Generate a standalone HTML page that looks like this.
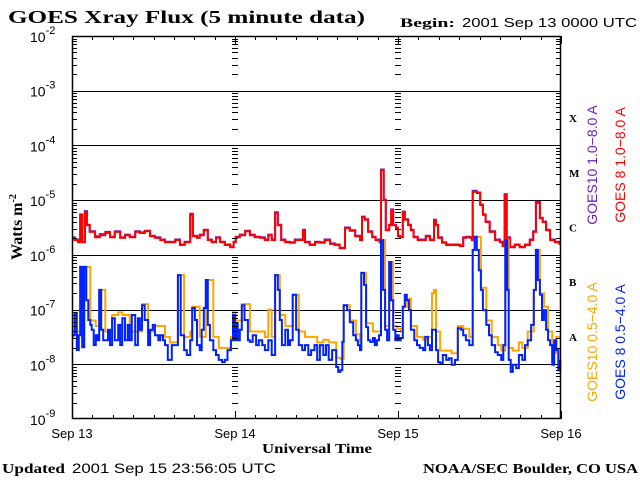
<!DOCTYPE html>
<html><head><meta charset="utf-8"><style>
html,body{margin:0;padding:0;background:#fff}
svg{display:block}
.serif{font-family:"Liberation Serif",serif;font-weight:bold}
.sans{font-family:"Liberation Sans",sans-serif}
</style></head><body>
<svg id="chart" width="640" height="480" viewBox="0 0 640 480">
<rect x="0" y="0" width="640" height="480" fill="#fff"/>
<text class="serif" x="8" y="23" font-size="18" textLength="357" lengthAdjust="spacingAndGlyphs">GOES Xray Flux (5 minute data)</text>
<text class="serif" x="400" y="27" font-size="13" textLength="55" lengthAdjust="spacingAndGlyphs">Begin:</text>
<text class="sans" x="462" y="27" font-size="13" textLength="175" lengthAdjust="spacingAndGlyphs">2001 Sep 13 0000 UTC</text>
<g id="grid"></g>
<g id="series"></g>
<g id="axes"></g>
<text class="serif" transform="translate(22,227) rotate(-90)" text-anchor="middle" font-size="16">Watts m<tspan dy="-6" font-size="10">-2</tspan></text>
<text class="serif" x="262" y="453" font-size="14" textLength="110" lengthAdjust="spacingAndGlyphs">Universal Time</text>
<text class="serif" x="2" y="473" font-size="14" textLength="63" lengthAdjust="spacingAndGlyphs">Updated</text>
<text class="sans" x="72" y="473" font-size="14" textLength="204" lengthAdjust="spacingAndGlyphs">2001 Sep 15 23:56:05 UTC</text>
<text class="serif" x="423" y="473" font-size="14" textLength="215" lengthAdjust="spacingAndGlyphs">NOAA/SEC Boulder, CO USA</text>
<g class="sans" font-size="14">
<text transform="translate(597,165) rotate(-90)" text-anchor="middle" fill="#6a1fc0">GOES10 1.0−8.0 A</text>
<text transform="translate(625,165) rotate(-90)" text-anchor="middle" fill="#ff0000">GOES 8 1.0−8.0 A</text>
<text transform="translate(597,342) rotate(-90)" text-anchor="middle" fill="#ffa500">GOES10 0.5−4.0 A</text>
<text transform="translate(625,342) rotate(-90)" text-anchor="middle" fill="#0022ff">GOES 8 0.5−4.0 A</text>
</g>
</svg>
<script>
const dayLabels=["Sep 13","Sep 14","Sep 15","Sep 16"];
const yExponents=[-2,-3,-4,-5,-6,-7,-8,-9];
const classLabels=["X","M","C","B","A"];
const classExponents=[-3.5,-4.5,-5.5,-6.5,-7.5];
const redT=[0,0.4,0.9,1.2,1.5,1.9,2.2,2.6,3.4,4.1,4.9,5.6,6.3,7.1,7.8,8.5,9.3,10,10.7,11.5,12.2,13,13.7,14.4,15.2,15.9,16.6,17.4,17.8,18.4,18.8,19.4,20,20.6,21.2,21.8,22.5,23.3,23.8,24.1,24.7,25.5,26.2,26.9,27.7,28.4,28.9,29.4,29.9,30.3,30.8,31.4,32.1,32.8,33.6,34,34.3,35,35.8,36.5,37.2,38,38.7,39.4,40.2,40.9,41.7,42.4,42.7,43.1,43.6,44.2,44.7,45.3,45.5,45.9,46.2,46.7,47,47.3,47.7,48,48.3,48.7,49,49.5,49.9,50.3,50.9,51.5,52.1,52.7,53.3,53.6,53.9,54.5,55.1,55.6,56.4,57.1,57.6,58,58.6,58.9,59,59.6,60.1,60.5,60.9,61.5,62.3,63,63.4,63.7,64,64.5,65.2,65.9,66.7,67.4,67.9,68.3,68.9,69.3,69.8,70.4,71.1,71.8];
const redV=[-5.69,-5.73,-5.77,-5.27,-5.77,-5.22,-5.46,-5.58,-5.68,-5.64,-5.6,-5.68,-5.58,-5.69,-5.64,-5.68,-5.58,-5.6,-5.57,-5.66,-5.69,-5.73,-5.77,-5.77,-5.73,-5.82,-5.77,-5.27,-5.66,-5.69,-5.64,-5.55,-5.73,-5.77,-5.69,-5.77,-5.82,-5.86,-5.77,-5.68,-5.64,-5.57,-5.64,-5.68,-5.69,-5.73,-5.64,-5.73,-5.24,-5.46,-5.73,-5.77,-5.78,-5.73,-5.73,-5.55,-5.77,-5.82,-5.77,-5.78,-5.73,-5.8,-5.82,-5.88,-5.51,-5.56,-5.66,-5.73,-5.31,-5.36,-5.58,-5.68,-5.73,-5.77,-4.45,-5.0,-5.55,-5.46,-5.18,-5.46,-5.51,-5.66,-5.68,-5.22,-5.36,-5.46,-5.55,-5.68,-5.73,-5.73,-5.66,-5.73,-5.38,-5.46,-5.69,-5.78,-5.82,-5.82,-5.82,-5.84,-5.69,-5.68,-5.69,-5.73,-4.85,-4.87,-5.09,-5.27,-5.4,-5.58,-5.73,-5.77,-5.84,-4.91,-5.69,-5.86,-5.82,-5.86,-5.82,-5.73,-5.58,-5.05,-5.33,-5.4,-5.55,-5.73,-5.77,-5.82];
const purpleV=[-5.68,-5.72,-5.76,-5.26,-5.76,-5.2,-5.45,-5.57,-5.66,-5.62,-5.58,-5.67,-5.57,-5.68,-5.63,-5.67,-5.57,-5.59,-5.56,-5.65,-5.68,-5.72,-5.76,-5.76,-5.72,-5.81,-5.76,-5.25,-5.65,-5.68,-5.63,-5.54,-5.72,-5.76,-5.68,-5.76,-5.81,-5.85,-5.76,-5.67,-5.63,-5.56,-5.63,-5.67,-5.68,-5.72,-5.63,-5.72,-5.22,-5.45,-5.72,-5.76,-5.77,-5.72,-5.72,-5.54,-5.76,-5.81,-5.76,-5.77,-5.72,-5.79,-5.81,-5.87,-5.5,-5.55,-5.65,-5.72,-5.3,-5.35,-5.57,-5.67,-5.72,-5.76,-4.44,-4.99,-5.54,-5.45,-5.17,-5.45,-5.5,-5.65,-5.67,-5.21,-5.35,-5.45,-5.54,-5.67,-5.72,-5.72,-5.65,-5.72,-5.36,-5.45,-5.68,-5.77,-5.81,-5.81,-5.81,-5.83,-5.68,-5.67,-5.68,-5.72,-4.83,-4.86,-5.08,-5.26,-5.39,-5.57,-5.72,-5.76,-5.83,-4.89,-5.68,-5.85,-5.81,-5.85,-5.81,-5.72,-5.57,-5.03,-5.32,-5.39,-5.54,-5.72,-5.76,-5.81];
const blueT=[0,0.1,0.4,0.7,1,1.2,1.5,1.8,2.1,2.4,2.7,2.9,3.2,3.5,3.8,4,4.3,4.6,4.9,5.3,5.6,5.9,6.3,6.8,7.1,7.4,7.8,8.2,8.5,8.8,9.3,9.7,10,10.3,10.7,11.2,11.5,11.9,12.2,12.7,13,13.4,13.7,14.1,14.4,14.7,15.2,15.6,16,16.5,16.9,17.4,17.7,18.1,18.4,18.8,19.1,19.4,19.7,20,20.3,20.8,21.2,21.6,22.1,22.5,22.9,23.4,23.7,24,24.1,24.4,24.7,25,25.4,25.9,26.2,26.6,27.1,27.5,28,28.4,28.9,29.4,29.9,30.3,30.6,30.9,31.4,31.8,32.1,32.5,33,33.4,33.9,34.3,34.8,35.2,35.7,36.1,36.5,37,37.4,37.8,38.3,38.9,39.2,39.5,39.8,40,40.5,40.9,41.4,41.8,42.1,42.4,42.6,43,43.3,43.6,43.9,44.3,44.6,44.9,45.2,45.5,45.8,46.1,46.4,46.7,47,47.3,47.6,47.9,48.1,48.4,48.7,49,49.3,49.6,49.9,50.4,50.8,51.2,51.7,52,52.4,52.7,53,53.3,53.6,53.9,54.2,54.6,55.1,55.5,55.9,56.4,56.8,57.3,57.6,58,58.5,58.7,59,59.3,59.6,59.9,60.2,60.5,61,61.4,61.8,62.3,62.7,63.2,63.5,63.8,64.1,64.3,64.6,64.9,65.4,65.8,66.3,66.7,67.1,67.6,68,68.3,68.6,68.9,69.2,69.5,69.8,70.1,70.4,70.7,71,71.3,71.6,71.9];
const blueV=[-7.5,-7.47,-7.06,-7.74,-7.47,-6.22,-7.69,-6.22,-6.83,-7.19,-7.28,-7.37,-7.65,-7.47,-7.56,-6.64,-7.37,-7.56,-7.56,-7.37,-7.65,-7.16,-7.56,-7.28,-7.65,-7.16,-7.56,-7.28,-7.56,-7.1,-7.65,-7.16,-7.37,-6.92,-7.19,-7.65,-7.37,-7.28,-7.47,-7.56,-7.47,-7.56,-7.65,-7.92,-7.92,-7.65,-7.65,-6.37,-7.47,-7.74,-7.83,-7.56,-6.97,-7.19,-7.65,-7.74,-7.37,-6.97,-6.46,-7.28,-7.56,-7.74,-7.83,-7.92,-7.96,-7.92,-7.74,-7.56,-7.1,-7.56,-7.25,-7.56,-7.37,-6.92,-7.19,-7.56,-7.59,-7.47,-7.65,-7.56,-7.65,-7.74,-7.56,-7.83,-6.37,-6.64,-7.19,-7.65,-7.37,-7.65,-7.56,-6.73,-7.37,-7.65,-7.74,-7.65,-7.83,-7.74,-7.65,-7.92,-7.65,-7.83,-7.65,-7.92,-7.74,-8.05,-8.14,-8.11,-7.59,-6.92,-7.01,-7.23,-7.47,-7.56,-7.65,-7.74,-6.33,-6.55,-7.32,-7.56,-7.59,-7.52,-7.65,-7.56,-7.47,-5.73,-6.64,-7.37,-7.56,-6.13,-6.83,-7.37,-7.56,-7.47,-7.56,-7.52,-6.95,-6.73,-6.83,-7.01,-7.37,-7.56,-7.65,-7.7,-7.74,-7.5,-7.65,-7.74,-7.37,-7.37,-7.74,-7.96,-7.98,-7.83,-7.92,-7.89,-8.01,-7.92,-7.34,-7.37,-7.47,-7.56,-7.65,-7.65,-5.91,-5.67,-5.91,-6.28,-6.64,-7.01,-7.28,-7.47,-7.65,-7.78,-7.83,-7.92,-7.65,-5.73,-6.64,-7.92,-8.14,-8.01,-8.07,-7.83,-7.92,-7.65,-7.56,-7.28,-6.64,-5.91,-6.46,-6.73,-7.19,-7.01,-7.37,-7.56,-7.65,-8.01,-7.56,-7.74,-8.11,-7.92];
const orangeT=[0,1.2,1.5,1.8,2.7,3.5,4,4.9,5.9,6.8,7.4,8.5,9.3,10.3,11.2,12.2,13.7,14.4,15.6,16.5,17.4,17.7,18.8,19.7,20.8,21.6,22.5,23.4,23.7,24.1,25,26.2,27.5,28.4,28.9,29.4,29.9,30.6,31.4,32.5,33.4,34.3,35.2,36.1,37,37.8,38.3,38.9,39.5,40,40.9,41.8,42.4,42.6,43.3,44.3,45.2,45.5,46.1,46.7,47.3,47.9,48.4,48.7,49.3,49.9,50.8,51.7,52.4,53,53.3,53.6,54.2,55.1,55.9,56.4,56.8,57.6,58.5,59,59.3,60.2,61,61.8,62.7,63.2,63.8,64.3,64.9,65.8,66.3,67.1,68,68.3,68.9,69.5,70.1,70.7,71.3,71.9];
const orangeV=[-7.4,-6.22,-7.55,-6.22,-7.2,-7.3,-6.64,-7.4,-7.1,-7.05,-7.1,-7.4,-7.4,-6.9,-7.4,-7.3,-7.5,-7.6,-6.37,-7.5,-7.4,-6.95,-7.5,-6.46,-7.5,-7.7,-7.7,-7.5,-7.05,-7.2,-6.9,-7.4,-7.4,-7.5,-7.0,-7.5,-6.37,-7.1,-7.3,-6.73,-7.4,-7.5,-7.5,-7.6,-7.55,-7.6,-7.6,-7.88,-7.9,-6.92,-7.2,-7.45,-7.6,-6.33,-7.25,-7.4,-7.4,-5.73,-7.3,-6.13,-7.3,-7.35,-7.4,-6.95,-6.8,-7.3,-7.5,-7.55,-7.5,-6.7,-6.64,-7.4,-7.75,-7.75,-7.8,-7.8,-7.3,-7.35,-7.5,-5.91,-5.67,-6.6,-7.2,-7.5,-7.65,-7.75,-5.73,-7.7,-7.75,-7.6,-7.7,-7.4,-6.64,-5.91,-6.7,-6.95,-7.4,-7.8,-7.5,-7.5];

const NS='http://www.w3.org/2000/svg';
const L=72,R=561,T=36,B=419;
function xS(h){return L+(R-L)*h/72;}
function yS(e){return T+(B-T)*(-2-e)/7;}
function mk(tag,attrs,parent){const el=document.createElementNS(NS,tag);for(const k in attrs)el.setAttribute(k,attrs[k]);parent.appendChild(el);return el;}
const grid=document.getElementById('grid'),axes=document.getElementById('axes'),series=document.getElementById('series');

for(let i=1;i<yExponents.length-1;i++){
  const y=Math.round(yS(yExponents[i]))+0.5;
  const g=mk('line',{x1:L,x2:R,y1:y,y2:y,stroke:'#000','stroke-width':1},grid);
  
  
}
const xsTick=[[L,1],[xS(24),0],[xS(48),0],[R,-1]];
for(let d=0;d<7;d++){
  for(let m=2;m<=9;m++){
    const y=Math.round(yS(yExponents[d+1]+Math.log10(m)))+0.5;
    xsTick.forEach(([x,dir])=>{
      let x1,x2;
      if(dir===1){x1=L;x2=L+5;}else if(dir===-1){x1=R-5;x2=R;}else{x1=x-3;x2=x+3;}
      const t=mk('line',{x1:x1,x2:x2,y1:y,y2:y,stroke:'#000','stroke-width':1},axes);
      
      
    });
  }
}
for(let h=0;h<=72;h+=3){
  const x=Math.round(xS(h))+0.5;
  const len=(h%24===0)?8:4;
  const t1=mk('line',{x1:x,x2:x,y1:B,y2:B-len,stroke:'#000','stroke-width':1},axes);
  
  
  const t2=mk('line',{x1:x,x2:x,y1:T,y2:T+len,stroke:'#000','stroke-width':1},axes);
  
  
}
const frame=mk('rect',{x:L+0.5,y:T+0.5,width:R-L-1,height:B-T-1,fill:'none',stroke:'#000','stroke-width':1.5},axes);


yExponents.forEach(e=>{
  const y=yS(e);
  const t=mk('text',{x:30,y:y+6,'font-size':14,'font-family':'Liberation Sans, sans-serif'},axes);
  
  
  t.textContent='10';
  const s=mk('tspan',{dy:-8,'font-size':11},t);
  s.textContent=String(e);
});
dayLabels.forEach((lab,i)=>{
  const t=mk('text',{x:xS(i*24),y:438,'text-anchor':'middle','font-size':13,'font-family':'Liberation Sans, sans-serif'},axes);
  
  
  t.textContent=lab;
});
classLabels.forEach((lab,i)=>{
  const t=mk('text',{x:569,y:yS(classExponents[i])+4,'font-size':11,'font-family':'Liberation Serif, serif','font-weight':'bold'},axes);
  
  
  t.textContent=lab;
});
function drawLine(ts,vs,color,name){
  let d='';
  ts.forEach((t,i)=>{
    const x=xS(t).toFixed(1),y=yS(vs[i]).toFixed(1);
    d+= i? ('H'+x+'V'+y) : ('M'+x+','+y);
  });
  const p=mk('path',{d:d,fill:'none',stroke:color,'stroke-width':2,'stroke-linejoin':'miter'},series);
  
  
}
drawLine(redT,purpleV,'#6a1fc0','series-goes10-long');
drawLine(redT,redV,'#ff0000','series-goes8-long');
drawLine(orangeT,orangeV,'#ffa500','series-goes10-short');
drawLine(blueT,blueV,'#0022ff','series-goes8-short');
</script>
</body></html>
